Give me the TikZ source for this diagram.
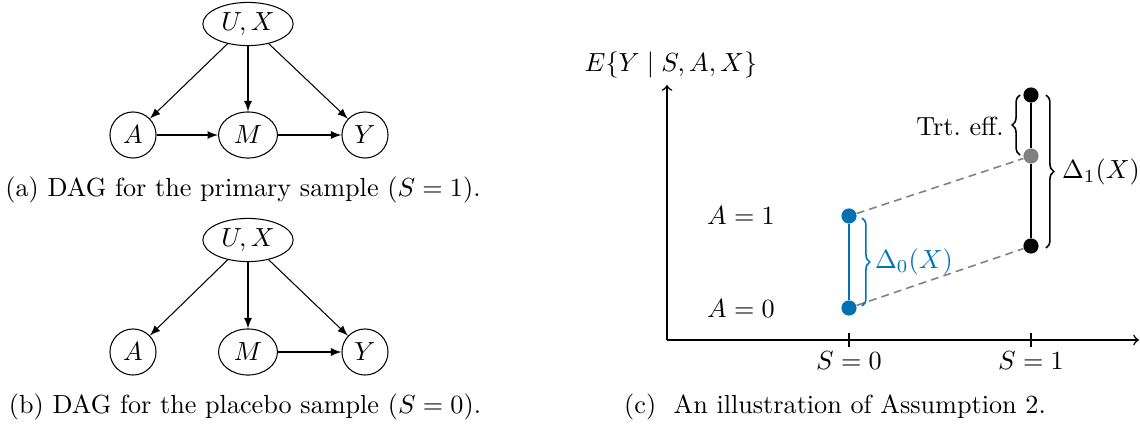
\documentclass[tikz,border=0pt]{standalone}
\usetikzlibrary{arrows,decorations.pathreplacing,shapes.geometric}
\definecolor{myblue}{RGB}{0,114,178}
\begin{document}
\begin{tikzpicture}[x=0.382pt,y=0.382pt,
  circ/.style={draw,circle,minimum size=17.6pt,inner sep=0pt},
  ell/.style={draw,ellipse,minimum width=22.5pt,minimum height=17.6pt,inner sep=0pt},
  ellux/.style={draw,ellipse,minimum width=34.5pt,minimum height=16.5pt,inner sep=0pt},
  dag/.style={-latex},
  dot/.style={circle,fill,inner sep=0pt,minimum size=5.8pt},
  brc/.style={decorate,decoration={brace,amplitude=3pt}},
  dsh/.style={dash pattern=on 3pt off 2pt,gray,semithick}]
\useasboundingbox (0,0) rectangle (1140,425);
% panel (a)
\node[ellux] (ua) at (248,401) {$U,X$};
\node[circ] (aa) at (133,290) {$A$};
\node[ell] (ma) at (248,290) {$M$};
\node[circ] (ya) at (365,290) {$Y$};
\draw[dag] (ua) -- (aa);
\draw[dag] (ua) -- (ma);
\draw[dag] (ua) -- (ya);
\draw[dag] (aa) -- (ma);
\draw[dag] (ma) -- (ya);
\node (capa) at (243,235) {(a) DAG for the primary sample ($S=1$).};
% panel (b)
\node[ellux] (ub) at (248,185) {$U,X$};
\node[circ] (ab) at (133,73) {$A$};
\node[ell] (mb) at (248,73) {$M$};
\node[circ] (yb) at (365,73) {$Y$};
\draw[dag] (ub) -- (ab);
\draw[dag] (ub) -- (mb);
\draw[dag] (ub) -- (yb);
\draw[dag] (mb) -- (yb);
\node (capb) at (245,18) {(b) DAG for the placebo sample ($S=0$).};
% panel (c)
\coordinate (o) at (667,85);
\coordinate (ytop) at (667,340);
\coordinate (xend) at (1139,85);
\draw[->,semithick] (o) -- (ytop);
\draw[->,semithick] (o) -- (xend);
\node (ylab) at (671,360) {$E\{Y\mid S,A,X\}$};
\coordinate (t0a) at (849,78); \coordinate (t0b) at (849,92);
\coordinate (t1a) at (1031,78); \coordinate (t1b) at (1031,92);
\draw (t0a) -- (t0b);
\draw (t1a) -- (t1b);
\node (s0) at (849,64) {$S=0$};
\node (s1) at (1031,64) {$S=1$};
\node (a1) at (741,209) {$A=1$};
\node (a0) at (741,116) {$A=0$};
\node[dot,myblue] (b1) at (849,209) {};
\node[dot,myblue] (b0) at (849,117) {};
\node[dot] (k1) at (1031,330) {};
\node[dot,gray] (g1) at (1031,269) {};
\node[dot] (k0) at (1031,179) {};
\draw[dsh] (b1) -- (g1);
\draw[dsh] (b0) -- (k0);
\draw[myblue,semithick] (b1) -- (b0);
\draw[semithick] (k1) -- (g1) -- (k0);
\coordinate (bb1) at (862,207); \coordinate (bb0) at (862,119);
\draw[brc,myblue,semithick] (bb1) -- (bb0);
\node[myblue] (d0) at (914,163) {$\Delta_0(X)$};
\coordinate (kb1) at (1046,330); \coordinate (kb0) at (1046,177);
\draw[brc,semithick] (kb1) -- (kb0);
\node (d1) at (1101,253) {$\Delta_1(X)$};
\coordinate (tb0) at (1020,270); \coordinate (tb1) at (1020,330);
\draw[brc,semithick] (tb0) -- (tb1);
\node (te) at (960,299) {Trt.\ eff.};
\node (capc) at (835,18) {(c)\ \ An illustration of Assumption 2.};
\end{tikzpicture}
\end{document}
